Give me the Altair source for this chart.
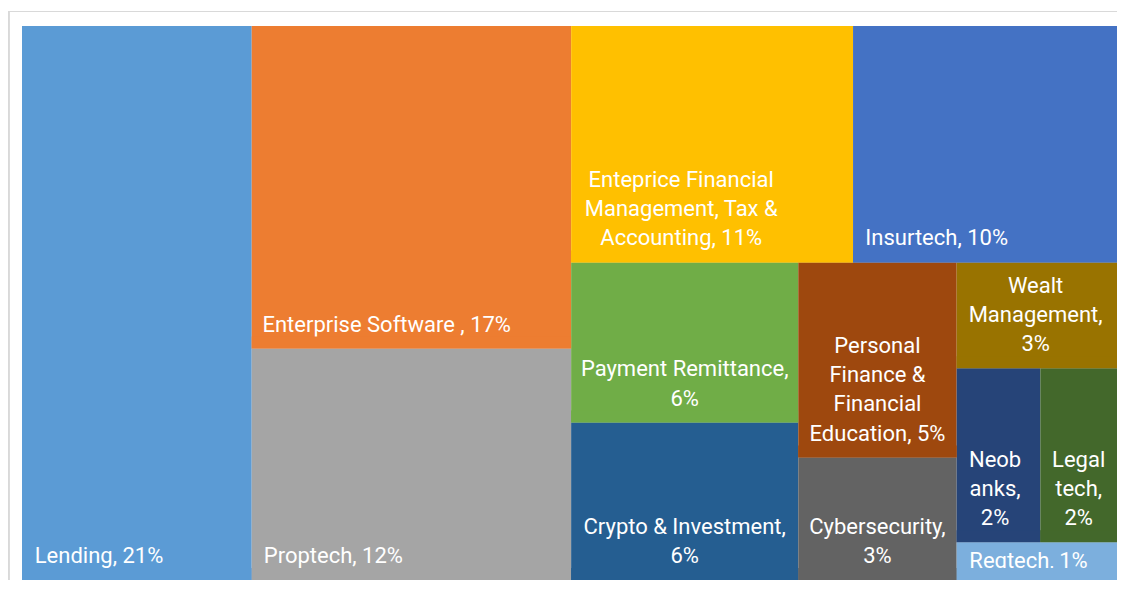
import altair as alt
import pandas as pd

# ---- data ----
names = [
    "Lending", "Enterprise Software ", "Proptech",
    "Enteprice Financial Management, Tax & Accounting", "Insurtech",
    "Payment Remittance", "Crypto & Investment",
    "Personal Finance & Financial Education", "Cybersecurity",
    "Wealt Management", "Neobanks", "Legaltech", "Regtech",
]
values = [21.0, 17.0, 12.2, 11.0, 10.3, 6.0, 5.9, 5.1, 3.2, 2.8, 2.4, 2.2, 1.0]
pct_labels = ["21%", "17%", "12%", "11%", "10%", "6%", "6%", "5%", "3%", "3%", "2%", "2%", "1%"]
label_lines = [
    ["Lending, 21%"],
    ["Enterprise Software , 17%"],
    ["Proptech, 12%"],
    ["Enteprice Financial", "Management, Tax &", "Accounting, 11%"],
    ["Insurtech, 10%"],
    ["Payment Remittance,", "6%"],
    ["Crypto & Investment,", "6%"],
    ["Personal", "Finance &", "Financial", "Education, 5%"],
    ["Cybersecurity,", "3%"],
    ["Wealt", "Management,", "3%"],
    ["Neob", "anks,", "2%"],
    ["Legal", "tech,", "2%"],
    ["Regtech, 1%"],
]
colors = [
    "#5B9BD5", "#ED7D31", "#A5A5A5", "#FFC000", "#4472C4", "#70AD47",
    "#255E91", "#9E480E", "#636363", "#997300", "#264478", "#43682B", "#7CAFDD",
]

# grouping of the tiles (alternating horizontal / vertical slicing)
tree = [
    names[0],
    [names[1], names[2]],
    [
        [names[3], names[4]],
        [
            [names[5], names[6]],
            [names[7], names[8]],
            [names[9], [names[10], names[11]], names[12]],
        ],
    ],
]

val = dict(zip(names, values))


def total(node):
    if isinstance(node, str):
        return val[node]
    return sum(total(c) for c in node)


rects = {}


def layout(node, x0, y0, x1, y1, horizontal):
    if isinstance(node, str):
        rects[node] = (x0, y0, x1, y1)
        return
    tot = total(node)
    pos = x0 if horizontal else y0
    for child in node:
        f = total(child) / tot
        if horizontal:
            w = (x1 - x0) * f
            layout(child, pos, y0, pos + w, y1, False)
            pos += w
        else:
            h = (y1 - y0) * f
            layout(child, x0, pos, x1, pos + h, True)
            pos += h


layout(tree, 0.0, 0.0, 1.0, 1.0, True)

# plot geometry (pixels)
VIEW_W, VIEW_H = 1109, 572
X0_PX, X1_PX = 14, 1109
Y0_PX, Y1_PX = 18, 572
W_PX, H_PX = X1_PX - X0_PX, Y1_PX - Y0_PX
FS = 22
LH = 29.3
PAD = 12
CAP = 15.6


def char_w(c):
    if c in "il.,:;'|!":
        return 0.24
    if c == " ":
        return 0.25
    if c in "frtj":
        return 0.33
    if c == "I":
        return 0.27
    wide = {"m": 0.876, "M": 0.86, "%": 0.73, "&": 0.62, "W": 0.89}
    if c in wide:
        return wide[c]
    if c.isdigit():
        return 0.56
    if c.isupper():
        return 0.63
    return 0.54


def text_w(s):
    return sum(char_w(c) for c in s) * FS


rows = []
text_rows = []
for i, n in enumerate(names):
    x0, y0, x1, y1 = rects[n]
    rows.append({"name": n, "x0": x0, "x1": x1, "y0": y0, "y1": y1,
                 "yb": y1 - PAD / H_PX, "value": values[i]})
    lines = label_lines[i]
    rect_w = (x1 - x0) * W_PX
    rect_h = (y1 - y0) * H_PX
    bw = min(max(text_w(s) for s in lines), rect_w - 2 * PAD)
    tx = x0 + (PAD + bw / 2) / W_PX
    need = 17 + (len(lines) - 1) * LH + CAP + 10
    if need <= rect_h:
        ty = y1 - (17 + (len(lines) - 1) * LH) / H_PX
    else:
        ty = y0 + (10 + CAP) / H_PX
    text_rows.append({"name": n, "tx": tx, "ty": ty, "label": "\n".join(lines)})

df = pd.DataFrame(rows)
tdf = pd.DataFrame(text_rows)

xs = alt.Scale(domain=[0, 1], range=[X0_PX, X1_PX])
ys = alt.Scale(domain=[0, 1], range=[Y0_PX, Y1_PX])
cs = alt.Scale(domain=names, range=colors)

tiles = alt.Chart(df).mark_rect(strokeWidth=0).encode(
    x=alt.X("x0:Q", scale=xs, axis=None),
    x2="x1:Q",
    y=alt.Y("y0:Q", scale=ys, axis=None),
    y2="y1:Q",
    color=alt.Color("name:N", scale=cs, legend=None),
    tooltip=["name:N", "value:Q"],
)

labels = alt.Chart(tdf).mark_text(
    font="Roboto", fontSize=FS, color="white", align="center",
    baseline="alphabetic", lineBreak="\n", lineHeight=LH,
).encode(
    x=alt.X("tx:Q", scale=xs, axis=None),
    y=alt.Y("ty:Q", scale=ys, axis=None),
    text="label:N",
)

# inner bottom padding of each tile (clips overflowing labels, as in the original)
pad_band = alt.Chart(df).mark_rect(strokeWidth=0).encode(
    x=alt.X("x0:Q", scale=xs, axis=None),
    x2="x1:Q",
    y=alt.Y("yb:Q", scale=ys, axis=None),
    y2="y1:Q",
    color=alt.Color("name:N", scale=cs, legend=None),
)

border_left = alt.Chart(df).mark_rule(color="#D9D9D9", strokeWidth=1.2).encode(
    x=alt.value(0.6), y=alt.value(3.5), y2=alt.value(VIEW_H)
)
border_top = alt.Chart(df).mark_rule(color="#D9D9D9", strokeWidth=1.2).encode(
    x=alt.value(0), x2=alt.value(VIEW_W), y=alt.value(3.5)
)

chart = alt.layer(tiles, labels, pad_band, border_left, border_top).properties(
    width=VIEW_W, height=VIEW_H, padding=0, autosize="none",
).configure_view(stroke=None)

chart.save("out.html", embed_options={"renderer": "svg", "actions": False})
